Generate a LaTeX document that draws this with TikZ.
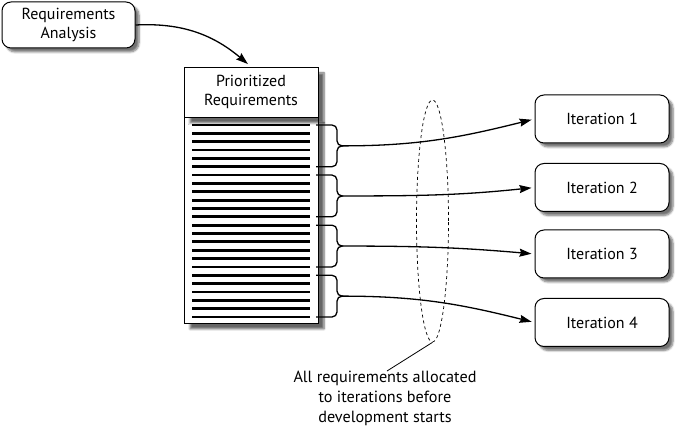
\documentclass[tikz,border=0pt]{standalone}
\usepackage{fontspec}
\setmainfont{PT Sans}
\usetikzlibrary{arrows.meta,shapes.geometric,shadows.blur}

\begin{document}
\begin{tikzpicture}[x=1pt,y=1pt,
	roundbox/.style={draw,line width=1pt,rounded corners=9pt,fill=white,
		align=center,font=\fontsize{16}{18.5}\selectfont,inner sep=0pt,
		blur shadow={shadow xshift=4pt,shadow yshift=-4pt,shadow blur steps=6,shadow opacity=55}},
	listbox/.style={draw,line width=0.8pt,fill=white,inner sep=0pt,
		blur shadow={shadow xshift=6pt,shadow yshift=-6pt,shadow blur steps=6,shadow opacity=60}},
	arr/.style={-{Stealth[length=12pt,width=8pt,inset=1.5pt]},line width=1.3pt,shorten >=3pt},
	reqline/.style={line width=2.8pt},
	bracepath/.style={line width=1.3pt,rounded corners=5pt}]

\useasboundingbox (0,0) rectangle (681,429);

% boxes
\node[roundbox,minimum width=133pt,minimum height=46pt] (ra) at (68.5,404) {Requirements\\Analysis};
\node[listbox,minimum width=134pt,minimum height=206pt] (lst) at (251,209) {};
\node[listbox,minimum width=134pt,minimum height=50pt,align=center,
	font=\fontsize{16}{18.5}\selectfont] (hdr) at (251,337) {Prioritized\\Requirements};

\foreach \n/\y in {1/310,2/241.5,3/175,4/106.5}
	\node[roundbox,minimum width=134pt,minimum height=48pt] (it\n) at (602,\y) {Iteration \n};

% requirement lines
\foreach \i in {0,...,23}
	\draw[reqline] (192,304-\i*8.348) -- (310,304-\i*8.348);

% braces
\foreach \k in {1,...,4} {
	\pgfmathsetmacro\top{304-6*(\k-1)*8.348}
	\pgfmathsetmacro\bot{\top-5*8.348}
	\pgfmathsetmacro\mid{(\top+\bot)/2}
	\draw[bracepath] (316,\top) -- (337,\top) -- (337,\mid) -- (343,\mid);
	\draw[bracepath] (316,\bot) -- (337,\bot) -- (337,\mid) -- (343,\mid);
	\coordinate (b\k) at (343,\mid);
}

% arrows
\draw[arr,shorten >=4pt] (ra.east) to[out=3,in=140] (hdr.north);
\draw[arr] (b1) to[out=0,in=194] (it1.west);
\draw[arr] (b2) to[out=0,in=186] (it2.west);
\draw[arr] (b3) to[out=0,in=175] (it3.west);
\draw[arr] (b4) to[out=0,in=166] (it4.west);

% allocation note
\node[ellipse,draw,dashed,line width=0.7pt,minimum width=32pt,minimum height=242pt] (ell) at (432.5,208) {};
\node[align=center,font=\fontsize{16.2}{20}\selectfont,inner sep=0pt,anchor=north] (note) at (385,58)
	{All requirements allocated\\to iterations before\\development starts};
\draw[line width=0.8pt] (ell.south) -- ([xshift=2pt]note.north);

\end{tikzpicture}
\end{document}
